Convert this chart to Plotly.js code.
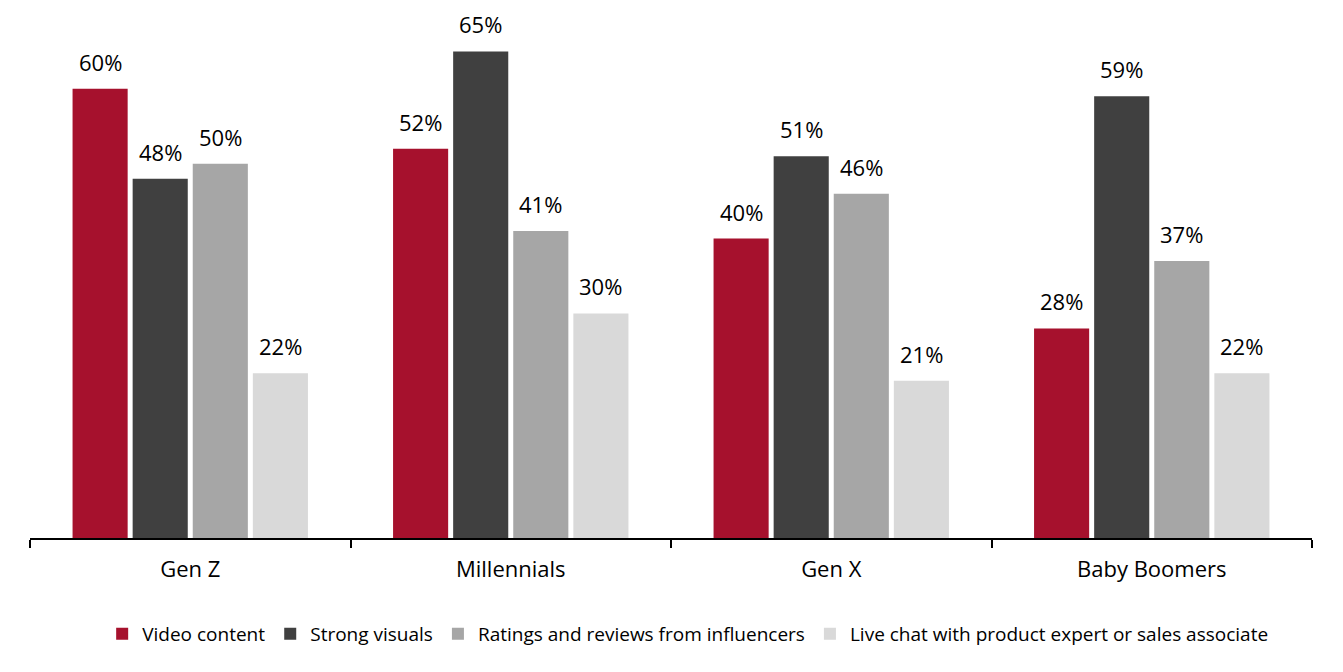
<!DOCTYPE html>
<html>
<head>
<meta charset="utf-8">
<script src="https://cdn.plot.ly/plotly-3.0.1.min.js"></script>
<style>body{margin:0;background:#fff}#chart{width:1343px;height:672px}</style>
</head>
<body>
<div id="chart"></div>
<script>
var categories = ["Gen Z", "Millennials", "Gen X", "Baby Boomers"];
var seriesNames = ["Video content", "Strong visuals", "Ratings and reviews from influencers", "Live chat with product expert or sales associate"];
var videoContent = [60, 52, 40, 28];
var strongVisuals = [48, 65, 51, 59];
var ratingsReviews = [50, 41, 46, 37];
var liveChat = [22, 30, 21, 22];
var colors = ["#A6112D", "#404040", "#A6A6A6", "#D9D9D9"];

var FONT = "Open Sans, Noto Sans, sans-serif";
var W = 1343, H = 672;
var margin = {l: 30, r: 31, t: 14, b: 134};
var bargap = 0.25, bargroupgap = 0.083;
var allSeries = [videoContent, strongVisuals, ratingsReviews, liveChat];

var traces = allSeries.map(function (vals, i) {
  return {
    type: "bar",
    name: seriesNames[i],
    x: categories,
    y: vals,
    marker: {color: colors[i]},
    hoverinfo: "skip"
  };
});

// value labels placed through the axis scales, shifted to each bar's slot in the group
var catWidth = (W - margin.l - margin.r) / categories.length;
var slot = catWidth * (1 - bargap) / allSeries.length;
var annotations = [];
allSeries.forEach(function (vals, i) {
  vals.forEach(function (v, j) {
    annotations.push({
      x: categories[j], y: v, xref: "x", yref: "y",
      text: v + "%",
      showarrow: false,
      xanchor: "center", yanchor: "bottom",
      xshift: (i - (allSeries.length - 1) / 2) * slot,
      yshift: 10,
      font: {family: FONT, size: 22, color: "#000"}
    });
  });
});

var layout = {
  width: W,
  height: H,
  margin: margin,
  paper_bgcolor: "#fff",
  plot_bgcolor: "#fff",
  barmode: "group",
  bargap: bargap,
  bargroupgap: bargroupgap,
  showlegend: true,
  annotations: annotations,
  legend: {
    orientation: "h",
    x: 0.513, xanchor: "center",
    y: -0.183, yanchor: "middle",
    font: {family: FONT, size: 19, color: "#000"},
    itemwidth: 30,
    tracegroupgap: 0
  },
  xaxis: {
    type: "category",
    showline: true,
    linecolor: "#000",
    linewidth: 2,
    ticks: "outside",
    tickson: "boundaries",
    ticklen: 8,
    tickwidth: 2,
    tickcolor: "#000",
    ticklabelstandoff: 11,
    tickfont: {family: FONT, size: 22, color: "#000"},
    showgrid: false,
    zeroline: false
  },
  yaxis: {
    range: [0, 70],
    visible: false,
    showgrid: false,
    zeroline: false
  }
};

Plotly.newPlot("chart", traces, layout, {displayModeBar: false, staticPlot: true});
</script>
</body>
</html>
